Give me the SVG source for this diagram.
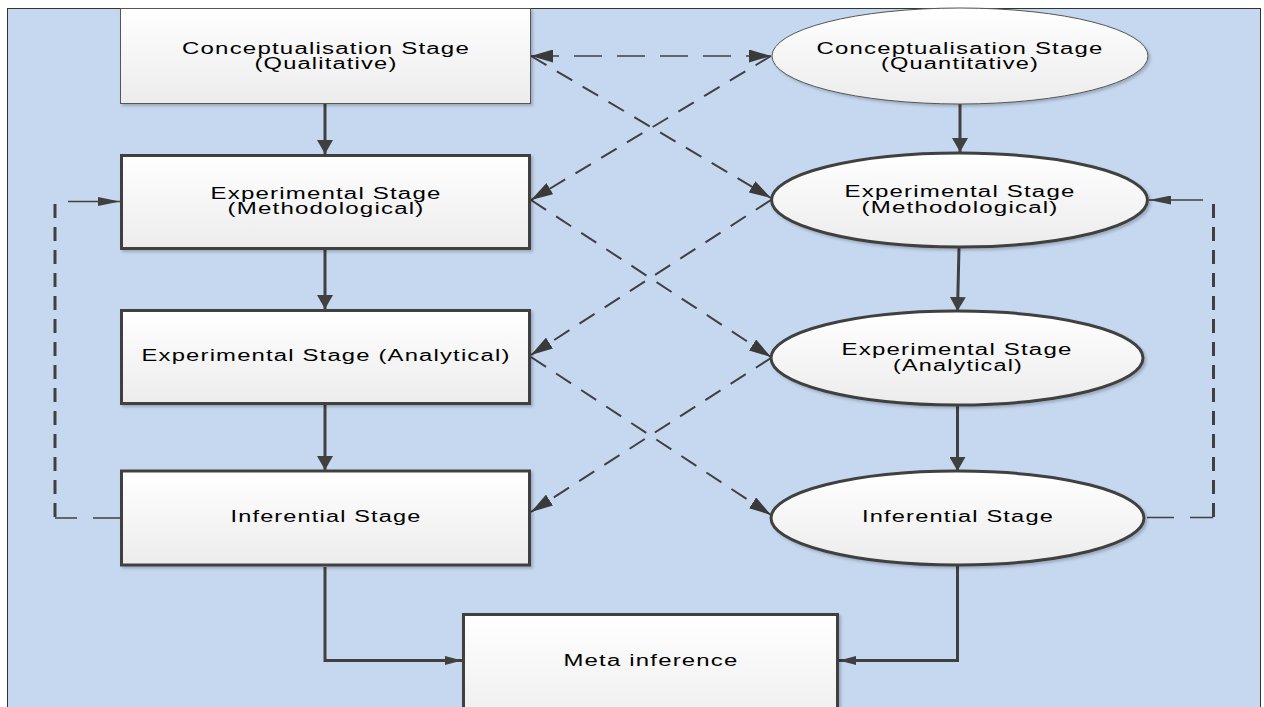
<svg xmlns="http://www.w3.org/2000/svg" width="1264" height="707" viewBox="0 0 1264 707">
<defs>
<linearGradient id="g" x1="0" y1="0" x2="0" y2="1">
<stop offset="0" stop-color="#ffffff"/>
<stop offset="1" stop-color="#ececec"/>
</linearGradient>
<filter id="sh" x="-5%" y="-5%" width="112%" height="120%">
<feDropShadow dx="2" dy="2" stdDeviation="1.5" flood-color="#000" flood-opacity="0.22"/>
</filter>
<marker id="aw" markerUnits="userSpaceOnUse" markerWidth="14" markerHeight="16" refX="14" refY="8" orient="auto">
<path d="M0,0 L14,8 L0,16 z" fill="#404040"/>
</marker>
<marker id="an" markerUnits="userSpaceOnUse" markerWidth="17" markerHeight="9" refX="17" refY="4.5" orient="auto">
<path d="M0,0 L17,4.5 L0,9 z" fill="#404040"/>
</marker>
<marker id="ad" markerUnits="userSpaceOnUse" markerWidth="22" markerHeight="13" refX="22" refY="6.5" orient="auto-start-reverse">
<path d="M0,0 L22,6.5 L0,13 z" fill="#3a3a3a"/>
</marker>
<marker id="af" markerUnits="userSpaceOnUse" markerWidth="22" markerHeight="9" refX="22" refY="4.5" orient="auto">
<path d="M0,0 L22,4.5 L0,9 z" fill="#404040"/>
</marker>
</defs>
<style>
.thin{fill:url(#g);stroke:#555;stroke-width:1;filter:url(#sh)}
.thick{fill:url(#g);stroke:#404040;stroke-width:3;filter:url(#sh)}
.t{font-family:"Liberation Sans",Arial,sans-serif;font-size:16px;letter-spacing:0.8px;fill:#000;text-anchor:middle}
.s{fill:none;stroke:#404040;stroke-width:3}
.d{fill:none;stroke:#404040;stroke-width:2;stroke-dasharray:18 12}
.dh{fill:none;stroke:#404040;stroke-width:1.5;stroke-dasharray:28 15}
.fv{fill:none;stroke:#404040;stroke-width:3;stroke-dasharray:14 9}
.fh{fill:none;stroke:#404040;stroke-width:1.5;stroke-dasharray:27 16}
</style>
<rect x="7.5" y="8.5" width="1253" height="720" fill="#c6d8f0" stroke="#333" stroke-width="1"/>

<g id="connectors">
<line class="s" x1="325" y1="104" x2="325" y2="154" marker-end="url(#aw)"/>
<line class="s" x1="325" y1="250" x2="325" y2="309" marker-end="url(#aw)"/>
<line class="s" x1="325" y1="405" x2="325" y2="470" marker-end="url(#aw)"/>
<line class="s" x1="960" y1="104" x2="960" y2="152" marker-end="url(#aw)"/>
<line class="s" x1="959" y1="248" x2="957.5" y2="311" marker-end="url(#aw)"/>
<line class="s" x1="957.5" y1="405" x2="957.5" y2="471" marker-end="url(#aw)"/>
<path class="s" d="M325,567 V660.5 H462" marker-end="url(#an)"/>
<path class="s" d="M957.5,565 V660.5 H839" marker-end="url(#an)"/>
<line class="dh" x1="531" y1="56" x2="771" y2="56" marker-start="url(#ad)" marker-end="url(#ad)"/>
<line class="d" x1="531" y1="56" x2="771" y2="198" marker-end="url(#ad)"/>
<line class="d" x1="771" y1="56" x2="531" y2="200" marker-end="url(#ad)"/>
<line class="d" x1="531" y1="200" x2="771" y2="357" marker-end="url(#ad)"/>
<line class="d" x1="771" y1="200" x2="531" y2="355" marker-end="url(#ad)"/>
<line class="d" x1="531" y1="357" x2="771" y2="515" marker-end="url(#ad)"/>
<line class="d" x1="771" y1="358" x2="531" y2="512" marker-end="url(#ad)"/>
<line class="fh" x1="120" y1="518" x2="55" y2="518"/>
<line class="fv" x1="55" y1="517" x2="55" y2="204"/>
<line x1="68" y1="201.5" x2="120" y2="201.5" stroke="#404040" stroke-width="1.5" marker-end="url(#af)"/>
<line class="fh" x1="1147" y1="517.5" x2="1213" y2="517.5"/>
<line class="fv" x1="1213.5" y1="517" x2="1213.5" y2="200"/>
<line x1="1203" y1="200" x2="1149" y2="200" stroke="#404040" stroke-width="1.5" marker-end="url(#af)"/>
</g>

<g id="n-conc-qual">
<rect class="thin" x="120.5" y="8.5" width="410" height="95"/>
<text class="t" x="326" y="54" textLength="288" lengthAdjust="spacingAndGlyphs">Conceptualisation Stage</text>
<text class="t" x="326" y="69" textLength="143" lengthAdjust="spacingAndGlyphs">(Qualitative)</text>
</g>
<g id="n-exp-meth-qual">
<rect class="thick" x="121.5" y="155.5" width="408" height="93"/>
<text class="t" x="326" y="199" textLength="231" lengthAdjust="spacingAndGlyphs">Experimental Stage</text>
<text class="t" x="326" y="214" textLength="197" lengthAdjust="spacingAndGlyphs">(Methodological)</text>
</g>
<g id="n-exp-anal-qual">
<rect class="thick" x="121.5" y="310.5" width="408" height="93"/>
<text class="t" x="326" y="361" textLength="369" lengthAdjust="spacingAndGlyphs">Experimental Stage (Analytical)</text>
</g>
<g id="n-inf-qual">
<rect class="thick" x="121.5" y="471" width="408" height="94"/>
<text class="t" x="326" y="522" textLength="191" lengthAdjust="spacingAndGlyphs">Inferential Stage</text>
</g>
<g id="n-conc-quant">
<ellipse class="thin" cx="960" cy="56" rx="188" ry="48"/>
<text class="t" x="960" y="54" textLength="287" lengthAdjust="spacingAndGlyphs">Conceptualisation Stage</text>
<text class="t" x="960" y="69" textLength="158" lengthAdjust="spacingAndGlyphs">(Quantitative)</text>
</g>
<g id="n-exp-meth-quant">
<ellipse class="thick" cx="959.5" cy="200" rx="188" ry="47"/>
<text class="t" x="960" y="197" textLength="231" lengthAdjust="spacingAndGlyphs">Experimental Stage</text>
<text class="t" x="960" y="213" textLength="197" lengthAdjust="spacingAndGlyphs">(Methodological)</text>
</g>
<g id="n-exp-anal-quant">
<ellipse class="thick" cx="957" cy="358" rx="186" ry="47"/>
<text class="t" x="957" y="355" textLength="231" lengthAdjust="spacingAndGlyphs">Experimental Stage</text>
<text class="t" x="958" y="371" textLength="130" lengthAdjust="spacingAndGlyphs">(Analytical)</text>
</g>
<g id="n-inf-quant">
<ellipse class="thick" cx="957.5" cy="518" rx="186.5" ry="47"/>
<text class="t" x="958" y="522" textLength="192" lengthAdjust="spacingAndGlyphs">Inferential Stage</text>
</g>
<g id="n-meta">
<rect class="thick" x="463.5" y="614.5" width="374" height="120"/>
<text class="t" x="651" y="666" textLength="175" lengthAdjust="spacingAndGlyphs">Meta inference</text>
</g>
</svg>
